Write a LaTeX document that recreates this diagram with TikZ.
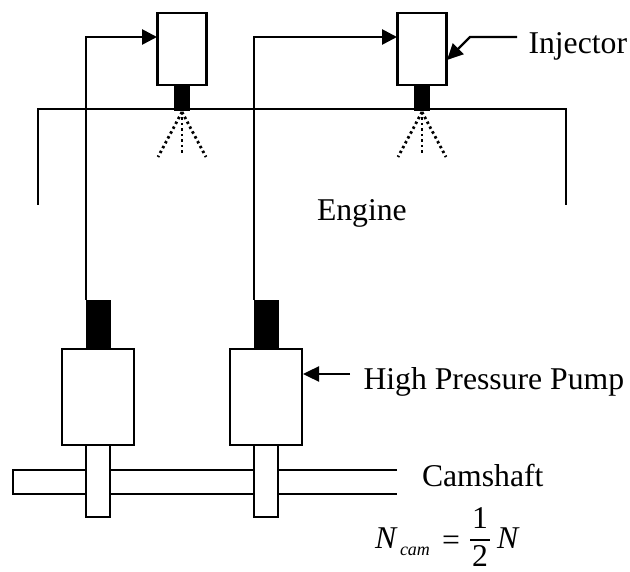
\documentclass[tikz,border=0pt]{standalone}
\usepackage{fontspec}
\setmainfont{Liberation Serif}
\usetikzlibrary{arrows.meta}
\tikzset{
  x=1pt,y=1pt,
  box/.style={draw=black,fill=white,line width=2.7pt,inner sep=0pt,outer sep=0pt,anchor=north west},
  solid box/.style={fill=black,draw=none,inner sep=0pt,outer sep=0pt,anchor=north west},
  txt/.style={inner sep=0pt,outer sep=0pt,anchor=base west,font=\fontsize{31.7}{38}\selectfont},
  small txt/.style={inner sep=0pt,outer sep=0pt,anchor=base west,font=\fontsize{18}{22}\selectfont\itshape},
  pipe/.style={draw=black,line width=2.7pt,line join=miter},
  wall/.style={draw=black,line width=2pt},
  feed/.style={pipe,-{Triangle[length=15pt,width=15pt]}},
  leader/.style={draw=black,line width=2.4pt,-{Triangle[length=16pt,width=15pt]}},
  spray/.style={draw=black,line width=2.8pt,dash pattern=on 2.5pt off 3pt}
}
\begin{document}
\begin{tikzpicture}
\useasboundingbox (0,0) rectangle (630,-572);
% engine
\coordinate (eA) at (38,-205);
\coordinate (eB) at (38,-109);
\coordinate (eC) at (566,-109);
\coordinate (eD) at (566,-205);
\draw[wall] (eA) -- (eB) -- (eC) -- (eD);
% camshaft
\coordinate (sA) at (397,-470);
\coordinate (sB) at (13,-470);
\coordinate (sC) at (13,-494);
\coordinate (sD) at (397,-494);
\draw[pipe] (sA) -- (sB) -- (sC) -- (sD);
% followers
\node[box,minimum width=24pt,minimum height=72pt] (f1) at (86,-445) {};
\node[box,minimum width=24pt,minimum height=72pt] (f2) at (254,-445) {};
% pumps
\node[box,minimum width=72pt,minimum height=96pt] (p1) at (62,-349) {};
\node[box,minimum width=72pt,minimum height=96pt] (p2) at (230,-349) {};
\node[solid box,minimum width=25pt,minimum height=50pt] (s1) at (86,-300) {};
\node[solid box,minimum width=25pt,minimum height=50pt] (s2) at (254,-300) {};
% injectors
\node[box,minimum width=49pt,minimum height=72pt] (i1) at (157.5,-13) {};
\node[box,minimum width=49pt,minimum height=72pt] (i2) at (397.5,-13) {};
\node[solid box,minimum width=15.5pt,minimum height=26pt] (n1) at (174,-85) {};
\node[solid box,minimum width=15.5pt,minimum height=26pt] (n2) at (414,-85) {};
% pipes
\coordinate (a1) at (157,-37);
\coordinate (c1) at (86,-37);
\coordinate (b1) at (86,-300);
\coordinate (a2) at (397,-37);
\coordinate (c2) at (254,-37);
\coordinate (b2) at (254,-300);
\draw[feed] (b1) -- (c1) -- (a1);
\draw[feed] (b2) -- (c2) -- (a2);
% sprays
\foreach \k/\cx in {1/182,2/422}{
  \coordinate (o\k) at (\cx,-112);
  \coordinate (l\k) at (\cx-24,-157);
  \coordinate (m\k) at (\cx,-155);
  \coordinate (r\k) at (\cx+24,-157);
  \draw[spray] (o\k) -- (l\k);
  \draw[spray] (o\k) -- (m\k);
  \draw[spray] (o\k) -- (r\k);
}
% leaders
\coordinate (q1) at (517,-37);
\coordinate (q2) at (470,-37);
\coordinate (q3) at (447,-60);
\draw[leader] (q1) -- (q2) -- (q3);
\coordinate (w1) at (350,-374);
\coordinate (w2) at (303,-374);
\draw[leader] (w1) -- (w2);
% labels
\node[txt] (tinj) at (528.5,-54) {Injector};
\node[txt] (teng) at (317,-221) {Engine};
\node[txt] (thpp) at (363.5,-390) {High Pressure Pump};
\node[txt] (tcam) at (422,-486) {Camshaft};
\node[txt,font=\fontsize{31.7}{38}\selectfont\itshape] (tN) at (375,-548) {N};
\node[small txt] (tsub) at (400,-555) {cam};
\node[txt] (teq) at (442,-550) {=};
\node[txt] (t1) at (472,-528) {1};
\coordinate (barL) at (470,-540);
\coordinate (barR) at (490,-540);
\draw[draw=black,line width=1.7pt] (barL) -- (barR);
\node[txt] (t2) at (472,-566) {2};
\node[txt,font=\fontsize{31.7}{38}\selectfont\itshape] (tM) at (497,-548) {N};
\end{tikzpicture}
\end{document}
